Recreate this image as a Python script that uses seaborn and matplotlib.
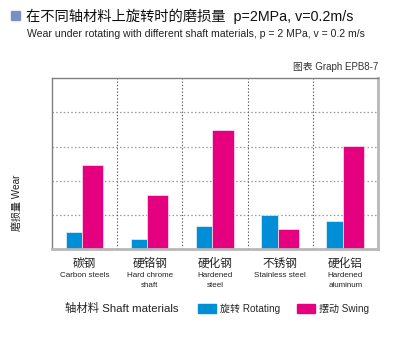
import numpy as np
import pandas as pd
import matplotlib
matplotlib.use("Agg")
import matplotlib.pyplot as plt
import seaborn as sns
from matplotlib.patches import Patch

# data
materials_cn = ["碳钢", "硬铬钢", "硬化钢", "不锈钢", "硬化铝"]
materials_en = ["Carbon steels", "Hard chrome\nshaft", "Hardened\nsteel", "Stainless steel", "Hardened\naluminum"]
rotating = [0.50, 0.29, 0.67, 1.00, 0.82]
swing = [2.47, 1.59, 3.48, 0.59, 3.02]
series = ["旋转 Rotating", "摆动 Swing"]
colors = ["#008fd7", "#e4007f"]

df = pd.DataFrame({
    "material": materials_cn * 2,
    "motion": [series[0]] * 5 + [series[1]] * 5,
    "wear": rotating + swing,
})

sns.set_style("white")
plt.rcParams["font.family"] = ["Liberation Sans", "Noto Sans CJK SC"]

fig = plt.figure(figsize=(4, 3.6), dpi=100)
ax = fig.add_axes([0.13, 0.308, 0.815, 0.475])

sns.barplot(data=df, x="material", y="wear", hue="motion", palette=colors,
            order=materials_cn, hue_order=series, legend=False, ax=ax,
            saturation=1, width=0.6)

# uneven bar widths like the original
for i, bar in enumerate(ax.containers[0]):
    bar.set_x(i - 0.29)
    bar.set_width(0.25)
for i, bar in enumerate(ax.containers[1]):
    bar.set_x(i - 0.04)
    bar.set_width(0.325)
for bar in ax.patches:
    bar.set_edgecolor("white")
    bar.set_linewidth(0.4)

ax.set_xlim(-0.5, 4.5)
ax.set_ylim(0, 5)
ax.set_yticks([])
ax.set_xticks([])
ax.set_xlabel("")
ax.set_ylabel("")
for y in [1, 2, 3, 4]:
    ax.axhline(y, color="#999999", ls=(0, (1.2, 1.8)), lw=0.9, zorder=0)
for x in [0.5, 1.5, 2.5, 3.5]:
    ax.axvline(x, color="#555555", ls=(0, (1.2, 1.8)), lw=0.8, zorder=0)

for s in ["left", "top"]:
    ax.spines[s].set_color("#808080")
    ax.spines[s].set_linewidth(1.0)
for s in ["right", "bottom"]:
    ax.spines[s].set_color("#b8b8b8")
    ax.spines[s].set_linewidth(2.0)

# category labels
for i in range(5):
    ax.text(i, -0.26, materials_cn[i], ha="center", va="top", fontsize=8.4, color="#222222")
    ax.text(i, -0.66, materials_en[i], ha="center", va="top", fontsize=5.8,
            color="#222222", linespacing=1.6)

# titles
fig.patches.append(plt.Rectangle((0.027, 0.944), 0.022, 0.025, color="#7b8fc7",
                                 transform=fig.transFigure, figure=fig))
fig.text(0.065, 0.955, "在不同轴材料上旋转时的磨损量  p=2MPa, v=0.2m/s",
         fontsize=10.3, va="center", color="#111111")
fig.text(0.067, 0.905, "Wear under rotating with different shaft materials, p = 2 MPa, v = 0.2 m/s",
         fontsize=7.6, va="center", color="#222222")
fig.text(0.945, 0.815, "图表 Graph EPB8-7", fontsize=7.0, ha="right", va="center", color="#333333")
fig.text(0.043, 0.436, "磨损量 Wear", fontsize=7.2, rotation=90, ha="center", va="center",
         color="#222222")

fig.text(0.163, 0.143, "轴材料 Shaft materials", fontsize=8.2, va="center", color="#222222")
handles = [Patch(color=colors[0]), Patch(color=colors[1])]
fig.legend(handles, series, loc="center left", bbox_to_anchor=(0.495, 0.143), ncol=2,
           frameon=False, fontsize=7.2, handlelength=1.8, handleheight=1.0,
           handletextpad=0.45, columnspacing=1.6, borderaxespad=0, borderpad=0)

fig.savefig("out.png", dpi=100)
